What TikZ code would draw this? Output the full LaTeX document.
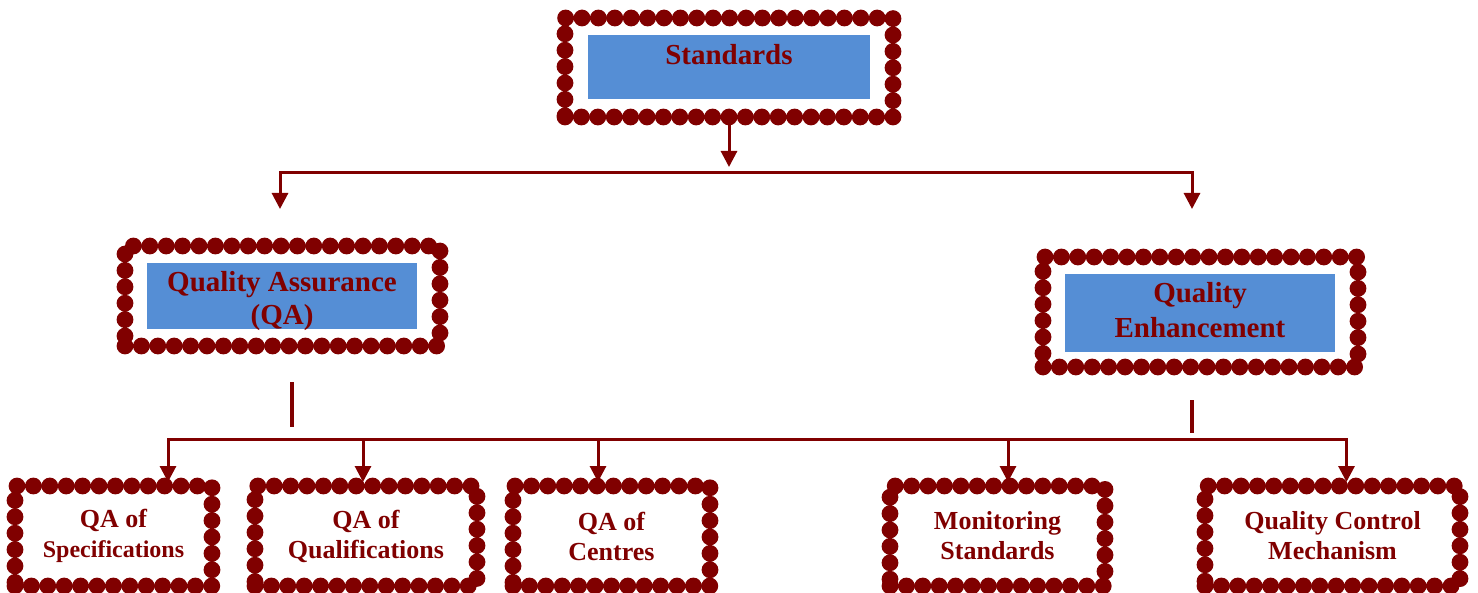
\documentclass[tikz,border=0pt]{standalone}
\usepackage{fontspec}
\setmainfont{Liberation Serif}
\usetikzlibrary{arrows.meta}
\definecolor{maroon}{RGB}{128,0,0}
\definecolor{boxblue}{RGB}{85,142,213}

\begin{document}
\begin{tikzpicture}[
    x=0.5pt, y=-0.5pt, >={Triangle[width=8pt,length=8pt]},
    dotframe/.style={rectangle, draw=maroon, line width=8.4pt, line cap=round,
      dash pattern=on 0pt off 8.2pt, outer sep=2pt, align=center, text=maroon,
      font=\bfseries\fontsize{13}{15}\selectfont},
    bluebox/.style={rectangle, fill=boxblue, inner sep=0pt},
    toptext/.style={inner sep=0pt, align=center, text=maroon,
      font=\bfseries\fontsize{14.5}{16.5}\selectfont},
    link/.style={draw=maroon, line width=1.5pt},
  ]
  \useasboundingbox (0,0) rectangle (1478,593);

  % top level
  \node[dotframe, minimum width=164pt, minimum height=49.5pt] (stdframe) at (729,67.5) {};
  \node[bluebox, minimum width=141pt, minimum height=32pt] (stdbox) at (729,67) {};
  \node[toptext] (stdtext) at (729,55) {Standards};

  % second level
  \node[dotframe, minimum width=157.5pt, minimum height=50pt] (qaframe) at (282.5,296) {};
  \node[bluebox, minimum width=135pt, minimum height=33pt] (qabox) at (282,296) {};
  \node[toptext] (qatext) at (282,301) {Quality Assurance\\(QA)};
  \node[dotframe, minimum width=157.5pt, minimum height=55pt] (qeframe) at (1200.5,312) {};
  \node[bluebox, minimum width=135pt, minimum height=39pt] (qebox) at (1200,313) {};
  \node[toptext] (qetext) at (1200,310) {Quality\\[1pt]Enhancement};

  % third level
  \node[dotframe, minimum width=98.5pt, minimum height=50pt] (spec)   at (113.5,536) {QA of\\{\fontsize{12}{15}\selectfont Specifications}};
  \node[dotframe, minimum width=111pt,  minimum height=50pt] (qual)   at (366,536)   {QA of\\Qualifications};
  \node[dotframe, minimum width=98.5pt, minimum height=50pt] (centre) at (611.5,536) {QA of\\Centres};
  \node[dotframe, minimum width=107.5pt,minimum height=50pt] (monit)  at (997.5,536) {Monitoring\\Standards};
  \node[dotframe, minimum width=127.5pt,minimum height=50pt] (qcm)    at (1332.5,536) {Quality Control\\Mechanism};

  % connectors
  \coordinate (stdtip) at (729,167);
  \coordinate (topbar) at (729,173);
  \coordinate (qatip)  at (280,209);
  \coordinate (qetip)  at (1192,209);
  \draw[link,->] (stdframe.south) -- (stdtip);
  \draw[link,->] (topbar) -| (qatip);
  \draw[link,->] (topbar) -| (qetip);

  \coordinate (qastub)    at (292,382);
  \coordinate (qastubend) at (292,427);
  \coordinate (qestub)    at (1192,400);
  \coordinate (qestubend) at (1192,433);
  \draw[link, line width=2pt] (qastub) -- (qastubend);
  \draw[link, line width=2pt] (qestub) -- (qestubend);

  \coordinate (lowbar) at (700,439);
  \draw[link,->] (lowbar) -| ([xshift=27.25pt]spec.north);
  \draw[link,->] (lowbar) -| ([xshift=-1.5pt]qual.north);
  \draw[link,->] (lowbar) -| ([xshift=-6.75pt]centre.north);
  \draw[link,->] (lowbar) -| ([xshift=5.25pt]monit.north);
  \draw[link,->] (lowbar) -| ([xshift=7pt]qcm.north);
\end{tikzpicture}
\end{document}
